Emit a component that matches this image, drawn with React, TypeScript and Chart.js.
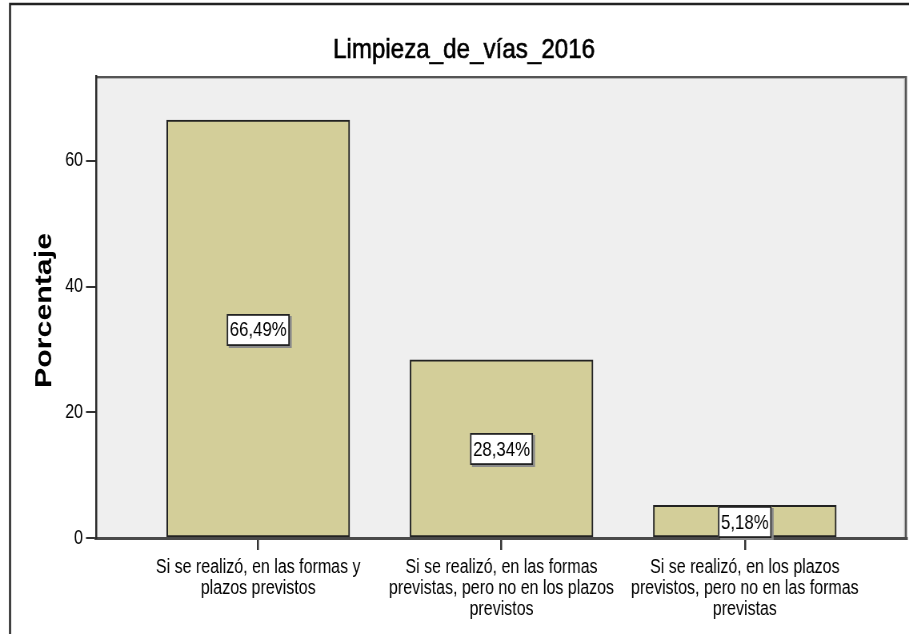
import React, { useEffect, useRef } from "react";
import { Chart, registerables } from "chart.js";

Chart.register(...registerables);

const TITLE = "Limpieza_de_vías_2016";
const Y_TITLE = "Porcentaje";
const CATEGORIES: string[][] = [
  ["Si se realizó, en las formas y", "plazos previstos"],
  ["Si se realizó, en las formas", "previstas, pero no en los plazos", "previstos"],
  ["Si se realizó, en los plazos", "previstos, pero no en las formas", "previstas"],
];
const VALUES = [66.49, 28.34, 5.18];
const VALUE_LABELS = ["66,49%", "28,34%", "5,18%"];
const Y_TICKS = [0, 20, 40, 60];
const Y_MAX = 73.5;

// The reference is horizontally condensed: the canvas is drawn wider and shown at 909px.
const VIEW_W = 909;
const VIEW_H = 634;
const SX = 0.8;
const CW = Math.round(VIEW_W / SX);
const K = VIEW_W / CW; // actual horizontal compression
const X = (px: number) => px / K; // view px -> canvas px

const SANS = "'Liberation Sans', Arial, sans-serif";

const decorPlugin = {
  id: "decor",
  beforeDraw(chart: any) {
    const { ctx, chartArea: a, width, height } = chart;
    ctx.save();
    ctx.fillStyle = "#ffffff";
    ctx.fillRect(0, 0, width, height);
    // outer frame
    ctx.strokeStyle = "#222";
    ctx.lineWidth = 2.5;
    ctx.beginPath();
    ctx.moveTo(X(10), height);
    ctx.lineTo(X(10), 4);
    ctx.lineTo(width, 4);
    ctx.stroke();
    // plot background
    ctx.fillStyle = "#efefef";
    ctx.fillRect(a.left, a.top, a.right - a.left, a.bottom - a.top);
    // plot top/right border (3d look)
    ctx.strokeStyle = "#b5b5b5";
    ctx.lineWidth = 1.2;
    ctx.beginPath();
    ctx.moveTo(a.left, a.top + 2.5);
    ctx.lineTo(a.right - X(2.5), a.top + 2.5);
    ctx.lineTo(a.right - X(2.5), a.bottom);
    ctx.stroke();
    ctx.strokeStyle = "#555";
    ctx.lineWidth = 2;
    ctx.beginPath();
    ctx.moveTo(a.left, a.top + 1);
    ctx.lineTo(a.right - X(1), a.top + 1);
    ctx.stroke();
    ctx.lineWidth = 2.5;
    ctx.beginPath();
    ctx.moveTo(a.right - X(1), a.top);
    ctx.lineTo(a.right - X(1), a.bottom);
    ctx.stroke();
    // title
    ctx.fillStyle = "#000";
    ctx.strokeStyle = "#000";
    ctx.lineWidth = 0.6;
    ctx.font = `28px ${SANS}`;
    ctx.textAlign = "center";
    ctx.textBaseline = "alphabetic";
    const tw = ctx.measureText(TITLE).width;
    ctx.translate(X(464), 58);
    ctx.scale(X(262) / tw, 1);
    ctx.fillText(TITLE, 0, 0);
    ctx.strokeText(TITLE, 0, 0);
    ctx.restore();
    // y title
    ctx.save();
    ctx.fillStyle = "#000";
    ctx.font = `bold 30px ${SANS}`;
    ctx.textAlign = "center";
    ctx.textBaseline = "alphabetic";
    const yw = ctx.measureText(Y_TITLE).width;
    ctx.translate(X(51), 310.5);
    ctx.rotate(-Math.PI / 2);
    ctx.scale(155 / yw, 1);
    ctx.fillText(Y_TITLE, 0, 0);
    ctx.restore();
  },
  afterDatasetsDraw(chart: any) {
    const { ctx } = chart;
    const meta = chart.getDatasetMeta(0);
    ctx.save();
    ctx.font = `21px ${SANS}`;
    ctx.textAlign = "center";
    ctx.textBaseline = "middle";
    meta.data.forEach((el: any, i: number) => {
      const label = VALUE_LABELS[i];
      const w = ctx.measureText(label).width;
      const bw = w + X(6);
      const bh = 32;
      const cx = el.x;
      const cy = (el.y + el.base) / 2 + 1;
      const x0 = cx - bw / 2;
      const y0 = Math.round(cy - bh / 2);
      ctx.fillStyle = "#8a8a8a";
      ctx.fillRect(x0 + X(2), y0 + 2, bw, bh);
      ctx.fillStyle = "#ffffff";
      ctx.fillRect(x0, y0, bw, bh);
      ctx.strokeStyle = "#222";
      ctx.lineWidth = 1.8;
      ctx.strokeRect(x0 + 0.9, y0 + 0.9, bw - 1.8, bh - 1.8);
      ctx.fillStyle = "#000";
      ctx.fillText(label, cx, cy + 1);
    });
    ctx.restore();
  },
};

export default function App() {
  const ref = useRef<HTMLCanvasElement | null>(null);
  useEffect(() => {
    if (!ref.current) return;
    const chart = new Chart(ref.current, {
      type: "bar",
      data: {
        datasets: [
          {
            data: VALUES.map((v, i) => ({ x: i, y: v })),
            backgroundColor: "#d3ce99",
            borderColor: "#222",
            borderWidth: 2,
            borderSkipped: false,
            barThickness: X(183),
          },
        ],
      },
      options: {
        animation: false,
        responsive: false,
        devicePixelRatio: 1,
        layout: { padding: { left: 0, top: 76, right: CW - X(907), bottom: 0 } },
        plugins: {
          legend: { display: false },
          tooltip: { enabled: false },
          title: { display: false },
        },
        scales: {
          x: {
            type: "linear",
            offset: false,
            min: -2 / 3,
            max: 8 / 3,
            afterBuildTicks: (scale: any) => {
              scale.ticks = CATEGORIES.map((_, i) => ({ value: i }));
            },
            afterFit: (scale: any) => {
              scale.height = VIEW_H - 538;
            },
            grid: {
              display: true,
              offset: false,
              drawOnChartArea: false,
              drawTicks: true,
              tickLength: 12,
              color: "#333",
              lineWidth: 2.5,
            },
            border: { display: true, color: "#4a4a4a", width: 3 },
            ticks: {
              autoSkip: false,
              maxRotation: 0,
              minRotation: 0,
              padding: 7,
              color: "#000",
              font: { family: SANS, size: 20, lineHeight: 1.05 },
              callback: (v: any) => CATEGORIES[Math.round(Number(v))] ?? "",
            },
          },
          y: {
            type: "linear",
            min: 0,
            max: Y_MAX,
            afterBuildTicks: (scale: any) => {
              scale.ticks = Y_TICKS.map((v) => ({ value: v }));
            },
            afterFit: (scale: any) => {
              scale.width = X(96);
            },
            grid: {
              display: true,
              drawOnChartArea: false,
              drawTicks: true,
              tickLength: X(10),
              color: "#333",
              lineWidth: 2,
            },
            border: { display: true, color: "#2a2a2a", width: 2.5 },
            ticks: {
              padding: X(3),
              color: "#000",
              font: { family: SANS, size: 20 },
              callback: (v: any) => String(v),
            },
          },
        },
      },
      plugins: [decorPlugin],
    } as any);
    return () => chart.destroy();
  }, []);
  return (
    <div style={{ position: "absolute", left: 0, top: 0, width: VIEW_W, height: VIEW_H }}>
      <canvas
        ref={ref}
        width={CW}
        height={VIEW_H}
        style={{ display: "block", width: VIEW_W, height: VIEW_H }}
      />
    </div>
  );
}
